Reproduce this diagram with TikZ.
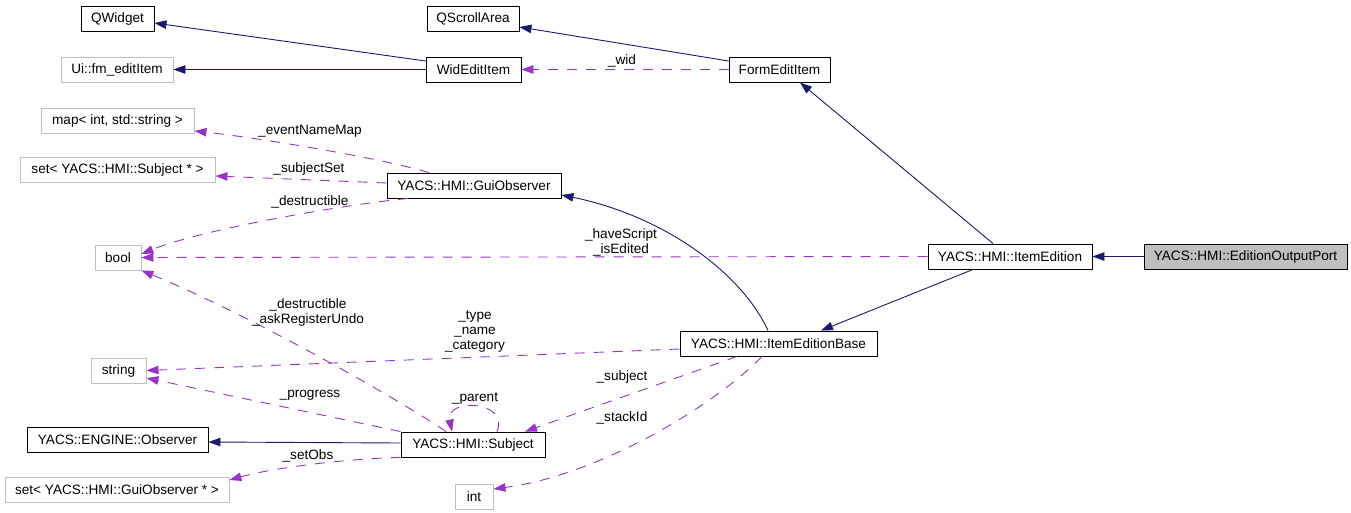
\documentclass[tikz,border=0pt]{standalone}
\usepackage{fontspec}
\setmainfont{Liberation Sans}
\usetikzlibrary{arrows.meta}
\definecolor{inhcol}{HTML}{191970}
\definecolor{usgcol}{HTML}{9A32CD}
\definecolor{gbord}{HTML}{BFBFBF}
\newcommand\dgfont{\fontsize{13.6}{15}\selectfont}
\tikzset{
  cls/.style={draw=black, fill=white, line width=0.9pt, minimum height=25pt, inner sep=0pt, font=\dgfont},
  ext/.style={cls, draw=gbord},
  inhedge/.style={draw=inhcol, line width=0.9pt, -{Triangle[length=12pt,width=8.5pt]}},
  usedge/.style={draw=usgcol, line width=0.9pt, dash pattern=on 10pt off 9pt, -{Triangle[length=12pt,width=8.5pt]}},
  lbl/.style={font=\dgfont, align=center, inner sep=0pt}
}
\begin{document}
\begin{tikzpicture}[x=1pt,y=-1pt]
\useasboundingbox (0,0) rectangle (1351,513);
% nodes
\node[cls, minimum width=73pt]  (qwidget) at (117.5,18.5) {QWidget};
\node[cls, minimum width=92pt]  (qscroll) at (473,18.5) {QScrollArea};
\node[ext, minimum width=112pt] (ui) at (117,69.5) {Ui::fm\_editItem};
\node[cls, minimum width=95pt]  (wid) at (473.5,69.5) {WidEditItem};
\node[cls, minimum width=101pt] (form) at (779.5,69.5) {FormEditItem};
\node[ext, minimum width=153pt] (map) at (117.5,120.5) {map< int, std::string >};
\node[ext, minimum width=195pt] (setsubj) at (117.5,169.5) {set< YACS::HMI::Subject * >};
\node[cls, minimum width=174pt] (gui) at (474,185.5) {YACS::HMI::GuiObserver};
\node[ext, minimum width=46pt]  (bool) at (118,257.5) {bool};
\node[cls, minimum width=164pt] (itemed) at (1010,256.5) {YACS::HMI::ItemEdition};
\node[cls, fill=gbord, minimum width=203pt] (outport) at (1245.5,256.5) {YACS::HMI::EditionOutputPort};
\node[ext, minimum width=55pt]  (string) at (118.5,370.5) {string};
\node[cls, minimum width=197pt] (base) at (778.5,343.5) {YACS::HMI::ItemEditionBase};
\node[cls, minimum width=181pt] (obs) at (117.5,439.5) {YACS::ENGINE::Observer};
\node[cls, minimum width=144pt] (subj) at (473,444.5) {YACS::HMI::Subject};
\node[ext, minimum width=224pt] (setgui) at (117,489.5) {set< YACS::HMI::GuiObserver * >};
\node[ext, minimum width=38pt]  (int) at (474,496.5) {int};
% inheritance edges
\draw[inhedge] ([yshift=8.5pt]wid.west) -- ([yshift=-4.5pt]qwidget.east);
\draw[inhedge] (wid.west) -- (ui.east);
\draw[inhedge] ([yshift=8.5pt]form.west) -- ([yshift=-8.5pt]qscroll.east);
\draw[inhedge] ([xshift=-17pt]itemed.north) -- ([xshift=20.5pt]form.south);
\draw[inhedge] (outport.west) -- (itemed.east);
\draw[inhedge] ([xshift=-37pt]itemed.south) -- ([xshift=42.5pt]base.north);
\draw[inhedge] ([xshift=-10.5pt]base.north) .. controls (740,270) and (660,215) .. ([yshift=-9.5pt]gui.east);
\draw[inhedge] ([yshift=1.5pt]subj.west) -- ([yshift=-2.5pt]obs.east);
% usage edges
\draw[usedge] (form.west) -- (wid.east);
\draw[usedge] ([xshift=-45pt]gui.north) .. controls (380,158) and (260,138) .. ([yshift=-10.5pt]map.east);
\draw[usedge] ([yshift=2.5pt]gui.west) -- ([yshift=-6.5pt]setsubj.east);
\draw[usedge] ([xshift=-66pt]gui.south) .. controls (340,205) and (200,230) .. ([yshift=3.5pt]bool.east);
\draw[usedge] (itemed.west) -- (bool.east);
\draw[usedge] ([xshift=-27pt]subj.north) .. controls (400,400) and (250,315) .. (bool.south east);
\draw[usedge] ([yshift=-5.5pt]base.west) -- (string.east);
\draw[usedge] (subj.north west) -- ([yshift=-7.5pt]string.east);
\draw[usedge] ([xshift=24pt]subj.north) .. controls (510,400) and (445,398) .. ([xshift=-21pt]subj.north);
\draw[usedge] ([xshift=-41.5pt]base.south) -- ([xshift=52pt]subj.north);
\draw[usedge] ([xshift=-16.5pt]base.south) .. controls (715,405) and (600,475) .. ([yshift=7.5pt]int.east);
\draw[usedge] (subj.south west) .. controls (360,458) and (280,466) .. ([yshift=9.5pt]setgui.east);
% labels
\node[lbl] (lwid) at (622,61) {\_wid};
\node[lbl] (levent) at (310,131) {\_eventNameMap};
\node[lbl] (lsubjset) at (309,169) {\_subjectSet};
\node[lbl] (ldestr) at (310,202) {\_destructible};
\node[lbl] (lhave) at (621,242) {\_haveScript\\\_isEdited};
\node[lbl] (lask) at (308,312) {\_destructible\\\_askRegisterUndo};
\node[lbl] (ltype) at (475,332) {\_type\\\_name\\\_category};
\node[lbl] (lprog) at (310,395) {\_progress};
\node[lbl] (lparent) at (475,399) {\_parent};
\node[lbl] (lsubject) at (622,377) {\_subject};
\node[lbl] (lstack) at (622,418) {\_stackId};
\node[lbl] (lsetobs) at (308,456) {\_setObs};
\end{tikzpicture}
\end{document}
